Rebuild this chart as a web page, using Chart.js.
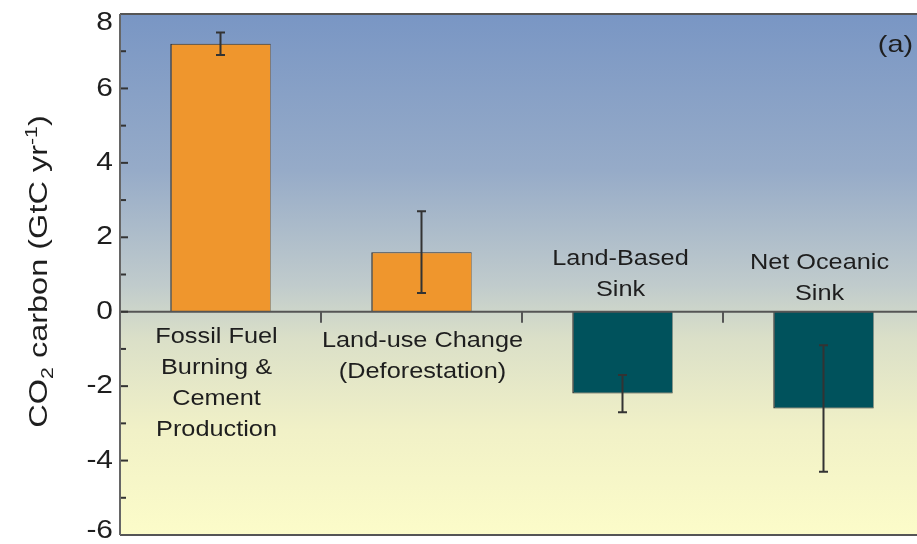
<!DOCTYPE html>
<html>
<head>
<meta charset="utf-8">
<script src="https://cdn.jsdelivr.net/npm/chart.js@4/dist/chart.umd.min.js"></script>
<style>
  html, body { margin: 0; padding: 0; background: #ffffff; overflow: hidden; }
  #wrap { width: 924px; height: 544px; }
</style>
</head>
<body>
<div id="wrap"><canvas id="c" width="924" height="544"></canvas></div>
<script>
// Annual CO2 budget terms (GtC per year)
const categories = [
  ['Fossil Fuel', 'Burning &', 'Cement', 'Production'],
  ['Land-use Change', '(Deforestation)'],
  ['Land-Based', 'Sink'],
  ['Net Oceanic', 'Sink']
];
const fluxValues = [7.2, 1.6, -2.2, -2.6];
const errLow = [6.9, 0.5, -2.7, -4.3];
const errHigh = [7.5, 2.7, -1.7, -0.9];
const yTickLabels = ['-6', '-4', '-2', '0', '2', '4', '6', '8'];
const panelTag = '(a)';

// styling
const barColors = ['#ef962d', '#ef962d', '#00525c', '#00525c'];
const labelFirstOffset = [31, 35, -16, -12]; // px from zero line (first / last baseline)
const labelShiftX = [-4, 1, -2, -4];
const inkColor = '#1e1e1e';
const frameColor = '#555555';
const FONT = "'Liberation Sans', Arial, sans-serif";

function stretchedText(ctx, str, x, y, align, sx) {
  ctx.save();
  ctx.translate(x, y);
  ctx.scale(sx, 1);
  ctx.textAlign = align;
  ctx.fillText(str, 0, 0);
  ctx.restore();
}

const backdrop = {
  id: 'backdrop',
  beforeDatasetsDraw(chart) {
    const { ctx, chartArea: a } = chart;
    const g = ctx.createLinearGradient(0, a.top, 0, a.bottom);
    g.addColorStop(0.00, '#7996c4');
    g.addColorStop(0.30, '#96abc8');
    g.addColorStop(0.52, '#c0cbcc');
    g.addColorStop(0.62, '#dadfc8');
    g.addColorStop(0.80, '#f1f1c7');
    g.addColorStop(1.00, '#fcfcc9');
    ctx.save();
    ctx.fillStyle = g;
    ctx.fillRect(a.left, a.top, a.right - a.left, a.bottom - a.top);
    ctx.restore();
  }
};

const decorations = {
  id: 'decorations',
  afterDatasetsDraw(chart) {
    const { ctx, chartArea: a, scales } = chart;
    const y = scales.y, x = scales.x;
    const y0 = y.getPixelForValue(0);
    const meta = chart.getDatasetMeta(0);
    ctx.save();

    // zero line
    ctx.strokeStyle = frameColor;
    ctx.lineWidth = 2;
    ctx.beginPath();
    ctx.moveTo(a.left, y0);
    ctx.lineTo(a.right, y0);
    ctx.stroke();

    // category boundary ticks hanging from the zero line
    for (let i = 1; i < categories.length; i++) {
      const bx = (x.getPixelForValue(i - 1) + x.getPixelForValue(i)) / 2;
      ctx.beginPath();
      ctx.moveTo(bx, y0);
      ctx.lineTo(bx, y0 + 11);
      ctx.stroke();
    }

    // inward y ticks (major on even values, minor on odd)
    ctx.strokeStyle = '#333333';
    ctx.lineWidth = 2;
    y.ticks.forEach(t => {
      const py = y.getPixelForValue(t.value);
      const len = t.value % 2 === 0 ? 8 : 6;
      ctx.beginPath();
      ctx.moveTo(a.left, py);
      ctx.lineTo(a.left + len, py);
      ctx.stroke();
    });

    // error bars
    ctx.strokeStyle = '#333333';
    ctx.lineWidth = 2;
    meta.data.forEach((bar, i) => {
      const cx = bar.x;
      const pHi = y.getPixelForValue(errHigh[i]);
      const pLo = y.getPixelForValue(errLow[i]);
      ctx.beginPath();
      ctx.moveTo(cx, pHi); ctx.lineTo(cx, pLo);
      ctx.moveTo(cx - 4.5, pHi); ctx.lineTo(cx + 4.5, pHi);
      ctx.moveTo(cx - 4.5, pLo); ctx.lineTo(cx + 4.5, pLo);
      ctx.stroke();
    });

    // top and bottom frame lines
    ctx.strokeStyle = frameColor;
    ctx.lineWidth = 2;
    ctx.beginPath();
    ctx.moveTo(a.left, a.top); ctx.lineTo(a.right, a.top);
    ctx.moveTo(a.left, a.bottom); ctx.lineTo(a.right, a.bottom);
    ctx.stroke();
    ctx.strokeStyle = '#666666';
    ctx.beginPath();
    ctx.moveTo(a.left, a.top); ctx.lineTo(a.left, a.bottom);
    ctx.stroke();

    // category labels inside the plot, opposite side of the bar
    ctx.fillStyle = inkColor;
    ctx.font = '22px ' + FONT;
    ctx.textBaseline = 'alphabetic';
    categories.forEach((lines, i) => {
      const cx = x.getPixelForValue(i) + labelShiftX[i];
      const step = 31;
      if (fluxValues[i] >= 0) {
        lines.forEach((ln, k) => stretchedText(ctx, ln, cx, y0 + labelFirstOffset[i] + k * step, 'center', 1.15));
      } else {
        const n = lines.length;
        lines.forEach((ln, k) => stretchedText(ctx, ln, cx, y0 + labelFirstOffset[i] - (n - 1 - k) * step, 'center', 1.15));
      }
    });

    // y tick labels
    ctx.font = '26px ' + FONT;
    ctx.textBaseline = 'middle';
    y.ticks.forEach(t => {
      if (t.value % 2 !== 0) return;
      const idx = (t.value - y.min) / 2;
      let py = y.getPixelForValue(t.value);
      py = Math.min(Math.max(py, a.top + 9), a.bottom - 4);
      stretchedText(ctx, yTickLabels[idx], a.left - 7, py, 'right', 1.15);
    });

    // panel tag
    ctx.font = '24px ' + FONT;
    ctx.textBaseline = 'middle';
    stretchedText(ctx, panelTag, 913, a.top + 31, 'right', 1.2);

    // y axis title with sub/superscripts
    const parts = [
      { s: 'CO', size: 26, dy: 0 },
      { s: '2', size: 17, dy: 6 },
      { s: ' carbon (GtC yr', size: 26, dy: 0 },
      { s: '-1', size: 17, dy: -10 },
      { s: ')', size: 26, dy: 0 }
    ];
    const sx = 1.25;
    let total = 0;
    parts.forEach(p => { ctx.font = p.size + 'px ' + FONT; p.w = ctx.measureText(p.s).width * sx; total += p.w; });
    ctx.save();
    ctx.translate(47, (a.top + a.bottom) / 2 - 3);
    ctx.rotate(-Math.PI / 2);
    ctx.textBaseline = 'alphabetic';
    let px = -total / 2;
    parts.forEach(p => {
      ctx.font = p.size + 'px ' + FONT;
      stretchedText(ctx, p.s, px, p.dy, 'left', sx);
      px += p.w;
    });
    ctx.restore();

    ctx.restore();
  }
};

new Chart(document.getElementById('c'), {
  type: 'bar',
  data: {
    labels: categories.map(l => l.join(' ')),
    datasets: [{
      data: fluxValues,
      backgroundColor: barColors,
      borderColor: '#333333',
      borderWidth: { left: 1.5, right: 0.5, top: 1, bottom: 1 },
      borderSkipped: 'start',
      barPercentage: 1,
      categoryPercentage: 0.5
    }]
  },
  options: {
    responsive: false,
    animation: false,
    devicePixelRatio: 1,
    layout: { padding: { top: 14, bottom: 9, left: 0, right: 0 } },
    plugins: { legend: { display: false }, tooltip: { enabled: false } },
    scales: {
      x: { display: false, offset: true, grid: { display: false } },
      y: {
        min: -6, max: 8,
        ticks: { stepSize: 1, display: false },
        grid: { display: false },
        border: { display: false },
        afterFit(scale) { scale.width = 120; }
      }
    }
  },
  plugins: [backdrop, decorations]
});
</script>
</body>
</html>
